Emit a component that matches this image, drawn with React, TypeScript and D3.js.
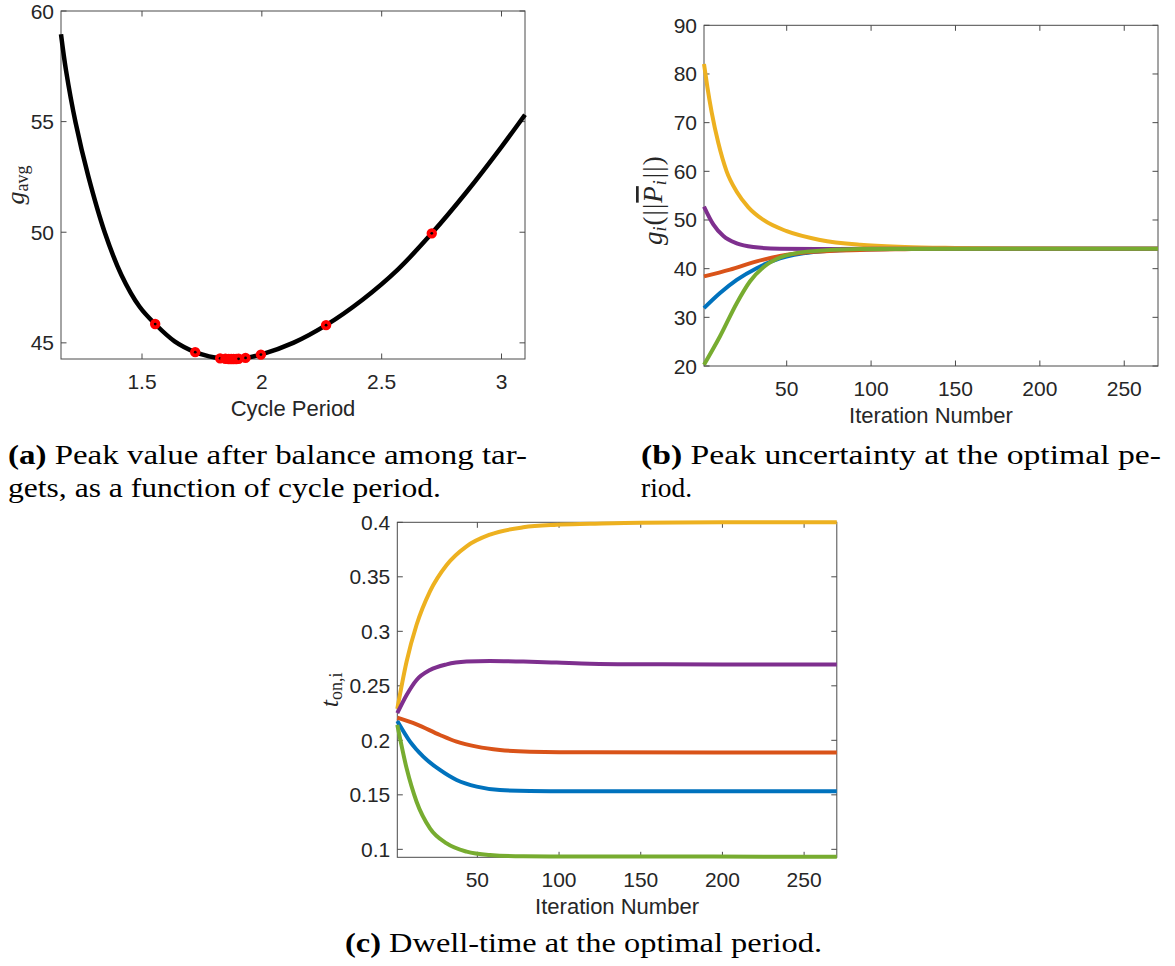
import React from 'react';
import * as d3 from 'd3';

// ---------- Panel (a): peak value vs cycle period ----------
const aCurve: [number, number][] = [
  [1.162, 58.95], [1.183, 57.31], [1.2228, 54.96], [1.2755, 52.55], [1.345, 49.98],
  [1.414, 48.07], [1.49, 46.63], [1.555, 45.85], [1.636, 45.07], [1.722, 44.58],
  [1.78, 44.39], [1.83, 44.3], [1.88, 44.27], [1.93, 44.32], [1.996, 44.47],
  [2.133, 45.01], [2.268, 45.8], [2.42, 46.95], [2.566, 48.3], [2.709, 49.95],
  [2.855, 51.83], [3.0, 53.86], [3.098, 55.31],
];
const aPoints: [number, number][] = [
  [1.555, 45.85], [1.722, 44.58], [1.826, 44.3], [1.848, 44.28], [1.862, 44.27],
  [1.872, 44.27], [1.882, 44.27], [1.893, 44.27], [1.903, 44.28], [1.932, 44.32],
  [1.996, 44.47], [2.268, 45.8], [2.709, 49.95],
];
const aXTicks = [1.5, 2, 2.5, 3];
const aYTicks = [45, 50, 55, 60];

// ---------- Panel (b): peak uncertainty per target ----------
const bBlue: [number, number][] = [
  [1, 31.9], [10.5, 35.0], [20.4, 37.7], [32.2, 40.1], [46, 42.1], [65.8, 43.4],
  [93.5, 43.95], [130, 44.1], [270, 44.1],
];
const bOrange: [number, number][] = [
  [1, 38.4], [16.4, 39.8], [32.2, 41.5], [46, 42.6], [65.8, 43.45], [93.5, 43.85],
  [120, 44.0], [150, 44.1], [270, 44.1],
];
const bYellow: [number, number][] = [
  [1, 82.05], [3, 77.3], [5.5, 72.2], [9.5, 65.8], [14.4, 60], [20.4, 55.8], [27.3, 52.6],
  [36.2, 50.0], [50, 47.7], [69.8, 45.9], [93.5, 44.9], [120, 44.45], [150, 44.25],
  [200, 44.12], [270, 44.1],
];
const bPurple: [number, number][] = [
  [1, 52.76], [6.5, 49.1], [12.5, 46.7], [20.4, 45.2], [30.2, 44.45], [46, 44.1],
  [80, 44.05], [120, 44.1], [270, 44.1],
];
const bGreen: [number, number][] = [
  [1, 20.25], [10.5, 26.1], [20.4, 32.9], [28.3, 37.4], [36.2, 40.3], [46, 42.3],
  [61.9, 43.5], [93.5, 44.05], [270, 44.1],
];
const bXTicks = [50, 100, 150, 200, 250];
const bYTicks = [20, 30, 40, 50, 60, 70, 80, 90];

// ---------- Panel (c): dwell time per target ----------
const cBlue: [number, number][] = [
  [1, 0.2177], [8.8, 0.1988], [16.9, 0.185], [27.1, 0.1728], [37.3, 0.1636],
  [49.6, 0.1575], [63.8, 0.1544], [82.2, 0.1535], [120, 0.1533], [270, 0.1533],
];
const cOrange: [number, number][] = [
  [1, 0.2208], [12.8, 0.2147], [27.1, 0.2049], [37.3, 0.1988], [49.6, 0.1942],
  [63.8, 0.1911], [82.2, 0.1896], [118.9, 0.189], [270, 0.1889],
];
const cYellow: [number, number][] = [
  [1, 0.2289], [6.7, 0.2723], [12.8, 0.306], [21, 0.3367], [31.2, 0.3609],
  [43.4, 0.378], [57.7, 0.3887], [78.1, 0.3954], [98.5, 0.3977], [118.9, 0.3986],
  [150, 0.3997], [200, 0.4], [270, 0.4],
];
const cPurple: [number, number][] = [
  [1, 0.2249], [6.7, 0.2416], [12.8, 0.2554], [21, 0.2645], [31.2, 0.2697],
  [43.4, 0.2722], [57.7, 0.2728], [78.1, 0.2722], [98.5, 0.2713], [118.9, 0.2703],
  [150, 0.2698], [200, 0.2696], [270, 0.2695],
];
const cGreen: [number, number][] = [
  [1, 0.2141], [6.7, 0.1743], [12.8, 0.1437], [21, 0.1193], [31.2, 0.1055],
  [43.4, 0.0979], [57.7, 0.0948], [78.1, 0.0936], [120, 0.0934], [270, 0.0933],
];
const cXTicks = [50, 100, 150, 200, 250];
const cYTicks = [0.1, 0.15, 0.2, 0.25, 0.3, 0.35, 0.4];
const cYTickLabels = ['0.1', '0.15', '0.2', '0.25', '0.3', '0.35', '0.4'];

const seriesColors = ['#0072BD', '#D95319', '#EDB120', '#7E2F8E', '#77AC30'];

const SANS = '"Liberation Sans", Arial, Helvetica, sans-serif';
const SERIF = '"Liberation Serif", "Times New Roman", serif';
const INK = '#262626';
const AXIS = '#4a4a4a';

type Box = { l: number; r: number; t: number; b: number };

function Frame(props: {
  box: Box;
  x: d3.ScaleLinear<number, number>;
  y: d3.ScaleLinear<number, number>;
  xTicks: number[];
  yTicks: number[];
  xFmt: (v: number, i: number) => string;
  yFmt: (v: number, i: number) => string;
  xLabel: string;
}) {
  const { box, x, y, xTicks, yTicks, xFmt, yFmt, xLabel } = props;
  const tl = 5.5;
  return (
    <g>
      <rect x={box.l} y={box.t} width={box.r - box.l} height={box.b - box.t}
        fill="none" stroke={AXIS} strokeWidth={1} />
      {xTicks.map((t, i) => {
        const px = x(t);
        return (
          <g key={'x' + t}>
            <line x1={px} x2={px} y1={box.b} y2={box.b - tl} stroke={AXIS} strokeWidth={1} />
            <line x1={px} x2={px} y1={box.t} y2={box.t + tl} stroke={AXIS} strokeWidth={1} />
            <text x={px} y={box.b + 30} textAnchor="middle" fontFamily={SANS}
              fontSize={21} fill={INK}>{xFmt(t, i)}</text>
          </g>
        );
      })}
      {yTicks.map((t, i) => {
        const py = y(t);
        return (
          <g key={'y' + t}>
            <line x1={box.l} x2={box.l + tl} y1={py} y2={py} stroke={AXIS} strokeWidth={1} />
            <line x1={box.r} x2={box.r - tl} y1={py} y2={py} stroke={AXIS} strokeWidth={1} />
            <text x={box.l - 7} y={py + 7.5} textAnchor="end" fontFamily={SANS}
              fontSize={21} fill={INK}>{yFmt(t, i)}</text>
          </g>
        );
      })}
      <text x={(box.l + box.r) / 2} y={box.b + 57} textAnchor="middle" fontFamily={SANS}
        fontSize={22} fill={INK}>{xLabel}</text>
    </g>
  );
}

export default function App() {
  // panel a
  const boxA: Box = { l: 61, r: 525, t: 11, b: 359 };
  const xA = d3.scaleLinear().domain([1.162, 3.098]).range([boxA.l, boxA.r]);
  const yA = d3.scaleLinear().domain([44.27, 60]).range([boxA.b, boxA.t]);
  const lineA = d3.line<[number, number]>()
    .x(d => xA(d[0])).y(d => yA(d[1])).curve(d3.curveCatmullRom.alpha(0.5));

  // panel b
  const boxB: Box = { l: 704, r: 1158, t: 25.3, b: 366 };
  const xB = d3.scaleLinear().domain([1, 270]).range([boxB.l, boxB.r]);
  const yB = d3.scaleLinear().domain([20, 90]).range([boxB.b, boxB.t]);
  const lineB = d3.line<[number, number]>()
    .x(d => xB(d[0])).y(d => yB(d[1])).curve(d3.curveMonotoneX);
  const bSeries = [bBlue, bOrange, bYellow, bPurple, bGreen];

  // panel c
  const boxC: Box = { l: 397.3, r: 836.8, t: 522.3, b: 857.3 };
  const xC = d3.scaleLinear().domain([1, 270]).range([boxC.l, boxC.r]);
  const yC = d3.scaleLinear().domain([0.0927, 0.4]).range([boxC.b, boxC.t]);
  const lineC = d3.line<[number, number]>()
    .x(d => xC(d[0])).y(d => yC(d[1])).curve(d3.curveMonotoneX);
  const cSeries = [cBlue, cOrange, cYellow, cPurple, cGreen];

  return (
    <svg width={1175} height={966} viewBox="0 0 1175 966"
      style={{ position: 'absolute', left: 0, top: 0, background: '#fff' }}>
      <rect x={0} y={0} width={1175} height={966} fill="#fff" />

      {/* Panel (a) */}
      <Frame box={boxA} x={xA} y={yA} xTicks={aXTicks} yTicks={aYTicks}
        xFmt={v => String(v)} yFmt={v => String(v)} xLabel="Cycle Period" />
      <path d={lineA(aCurve) || ''} fill="none" stroke="#000" strokeWidth={4.5}
        strokeLinejoin="round" />
      {aPoints.map((p, i) => (
        <g key={'pt' + i}>
          <circle cx={xA(p[0])} cy={yA(p[1])} r={4.2} fill="#ff0000" stroke="#ff0000" strokeWidth={2} />
          <circle cx={xA(p[0])} cy={yA(p[1])} r={1.4} fill="#000" />
        </g>
      ))}
      <text transform={`translate(24,${(boxA.t + boxA.b) / 2}) rotate(-90)`}
        textAnchor="middle" fontFamily={SERIF} fontSize={26} fill={INK}>
        <tspan fontStyle="italic">g</tspan>
        <tspan fontSize={18} dy={4}>avg</tspan>
      </text>

      {/* Panel (b) */}
      <Frame box={boxB} x={xB} y={yB} xTicks={bXTicks} yTicks={bYTicks}
        xFmt={v => String(v)} yFmt={v => String(v)} xLabel="Iteration Number" />
      {bSeries.map((s, i) => (
        <path key={'b' + i} d={lineB(s) || ''} fill="none" stroke={seriesColors[i]}
          strokeWidth={4} strokeLinejoin="round" />
      ))}
      <text transform={`translate(662,${(boxB.t + boxB.b) / 2 + 5}) rotate(-90)`}
        textAnchor="middle" fontFamily={SERIF} fontSize={27} fill={INK}>
        <tspan fontStyle="italic">g</tspan>
        <tspan fontStyle="italic" fontSize={18} dy={4}>i</tspan>
        <tspan dy={-4} dx={1}>(</tspan>
        <tspan dx={1}>|</tspan>
        <tspan dx={1}>|</tspan>
        <tspan fontStyle="italic" dx={1} style={{ textDecoration: 'overline' }}>P</tspan>
        <tspan fontStyle="italic" fontSize={18} dy={4} dx={1}>i</tspan>
        <tspan dy={-4} dx={2}>|</tspan>
        <tspan dx={1}>|</tspan>
        <tspan dx={1}>)</tspan>
      </text>

      {/* Panel (c) */}
      <Frame box={boxC} x={xC} y={yC} xTicks={cXTicks} yTicks={cYTicks}
        xFmt={v => String(v)} yFmt={(v, i) => cYTickLabels[i]} xLabel="Iteration Number" />
      {cSeries.map((s, i) => (
        <path key={'c' + i} d={lineC(s) || ''} fill="none" stroke={seriesColors[i]}
          strokeWidth={4} strokeLinejoin="round" />
      ))}
      <text transform={`translate(338,${(boxC.t + boxC.b) / 2}) rotate(-90)`}
        textAnchor="middle" fontFamily={SERIF} fontSize={26} fill={INK}>
        <tspan fontStyle="italic">t</tspan>
        <tspan fontSize={18} dy={4}>on,i</tspan>
      </text>

      {/* Captions */}
      <g fontFamily={SERIF} fontSize={27} fill="#000">
        <text x={8} y={464} textLength={519} lengthAdjust="spacingAndGlyphs">
          <tspan fontWeight="bold">(a)</tspan> Peak value after balance among tar-
        </text>
        <text x={8} y={497} textLength={433} lengthAdjust="spacingAndGlyphs">
          gets, as a function of cycle period.
        </text>
        <text x={641} y={464} textLength={520} lengthAdjust="spacingAndGlyphs">
          <tspan fontWeight="bold">(b)</tspan> Peak uncertainty at the optimal pe-
        </text>
        <text x={641} y={497} textLength={51} lengthAdjust="spacingAndGlyphs">
          riod.
        </text>
        <text x={345} y={952} textLength={477} lengthAdjust="spacingAndGlyphs">
          <tspan fontWeight="bold">(c)</tspan> Dwell-time at the optimal period.
        </text>
      </g>
    </svg>
  );
}
